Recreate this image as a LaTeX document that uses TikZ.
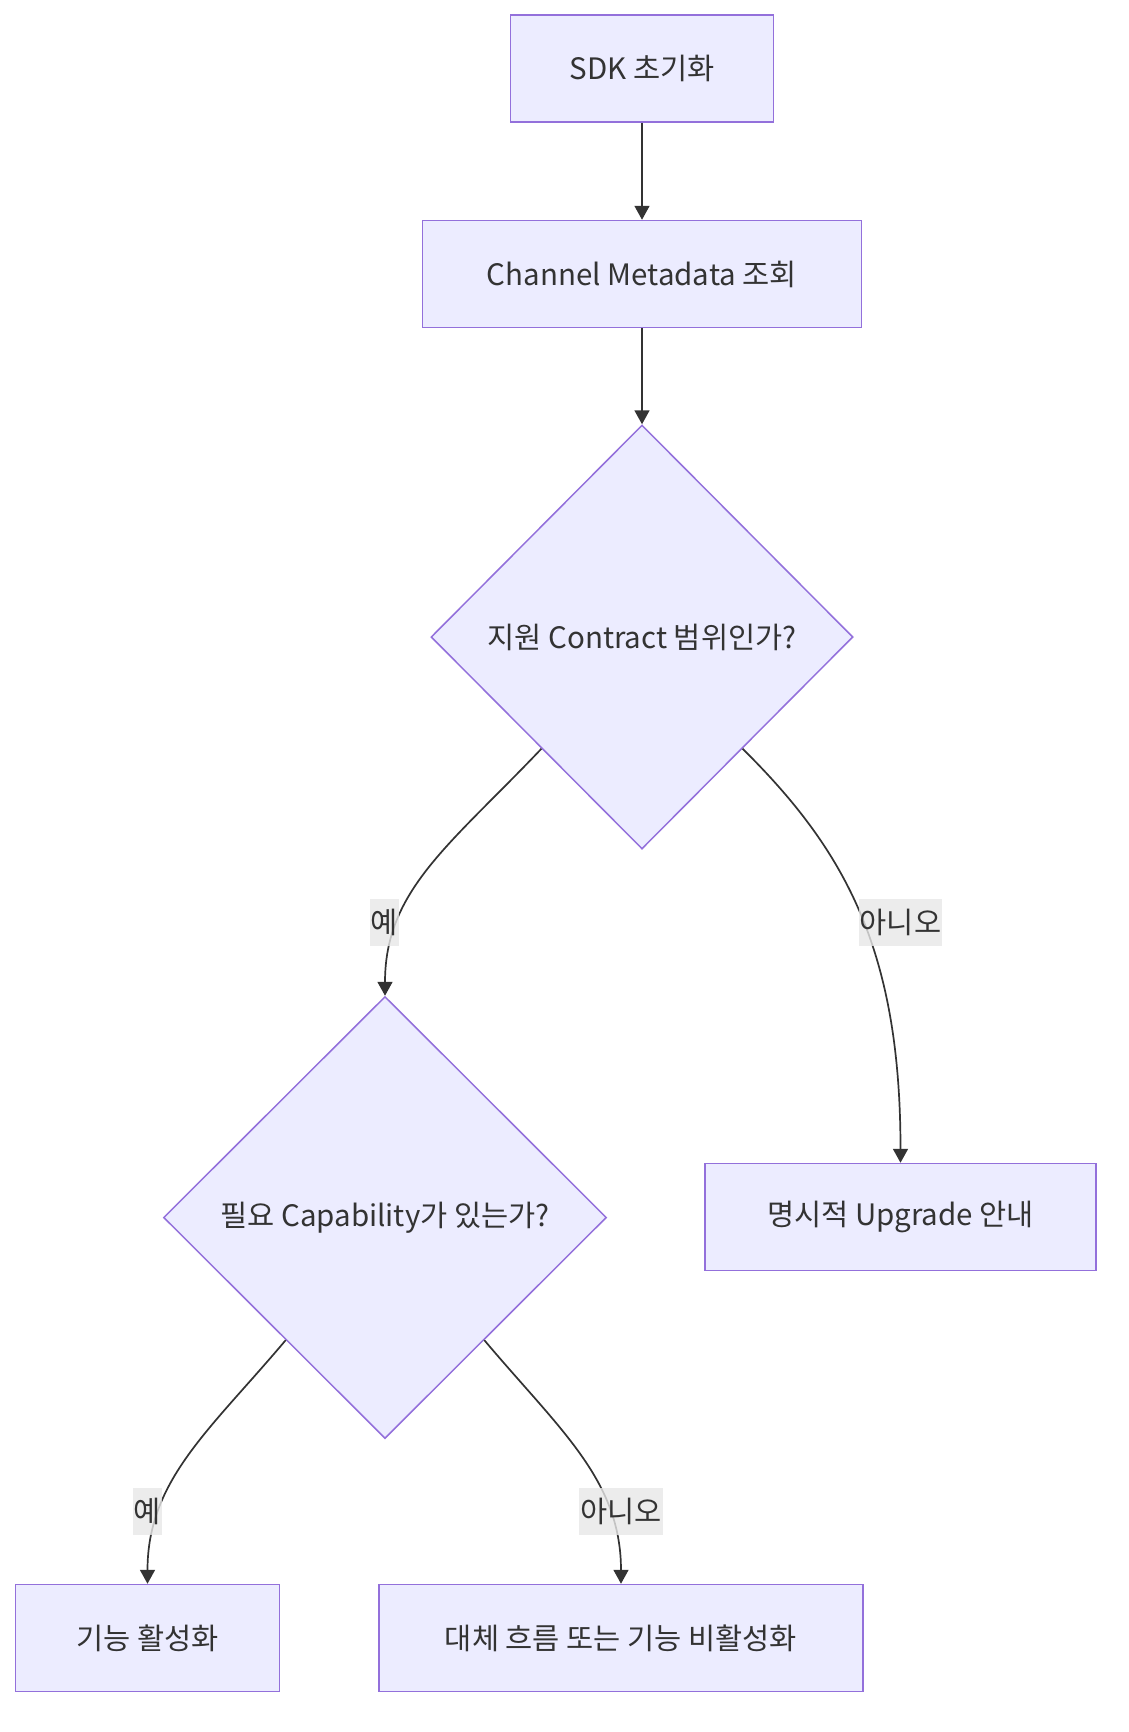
\documentclass[tikz,border=0pt]{standalone}
\usepackage{fontspec}
\setmainfont{Noto Sans CJK KR}
\usetikzlibrary{shapes.geometric,arrows.meta}
\definecolor{nodefill}{HTML}{ECECFF}
\definecolor{nodeline}{HTML}{9370DB}
\definecolor{ink}{HTML}{333333}
\definecolor{lblbg}{HTML}{E8E8E8}
\tikzstyle{proc}=[draw=nodeline,fill=nodefill,line width=1.5pt,minimum height=107pt,inner sep=0pt,text=ink,font=\fontsize{29.5}{34}\selectfont]
\tikzstyle{cond}=[proc,diamond,aspect=1]
\tikzstyle{flow}=[draw=ink,line width=1.7pt,-{Triangle[length=14pt,width=15pt]}]
\tikzstyle{lbl}=[fill=lblbg,fill opacity=0.8,text opacity=1,text=ink,inner sep=0pt,inner xsep=1pt,minimum height=47pt,font=\fontsize{29.5}{34}\selectfont]

\begin{document}
\begin{tikzpicture}[x=1pt,y=-1pt]
	\useasboundingbox[fill=white] (0,0) rectangle (1128,1732);
	% nodes
	\node[proc,minimum width=263pt] (init) at (642,68.5) {SDK 초기화};
	\node[proc,minimum width=439pt] (meta) at (642,274) {Channel Metadata 조회};
	\node[cond,minimum width=422pt,minimum height=424pt] (range) at (642,637) {지원 Contract 범위인가?};
	\node[cond,minimum width=443pt,minimum height=442pt] (cap) at (385,1217.5) {필요 Capability가 있는가?};
	\node[proc,minimum width=391pt] (upg) at (900.5,1217) {명시적 Upgrade 안내};
	\node[proc,minimum width=264pt] (on) at (147.5,1638) {기능 활성화};
	\node[proc,minimum width=484pt] (off) at (621,1638) {대체 흐름 또는 기능 비활성화};
	% edges
	\draw[flow] (init) -- (meta);
	\draw[flow] (meta) -- (range);
	\draw[flow] (range.-132) .. controls (450,845) and (385,890) .. (cap.north);
	\draw[flow] (range.-48) .. controls (845,850) and (900.5,950) .. (upg.north);
	\draw[flow] (cap.-129) .. controls (210,1430) and (147.5,1480) .. (on.north);
	\draw[flow] (cap.-51) .. controls (560,1430) and (621,1480) .. (off.north);
	% edge labels
	\node[lbl] (y1) at (384.5,922) {예};
	\node[lbl] (n1) at (900.5,922) {아니오};
	\node[lbl] (y2) at (147.5,1511) {예};
	\node[lbl] (n2) at (621,1511) {아니오};
\end{tikzpicture}
\end{document}
